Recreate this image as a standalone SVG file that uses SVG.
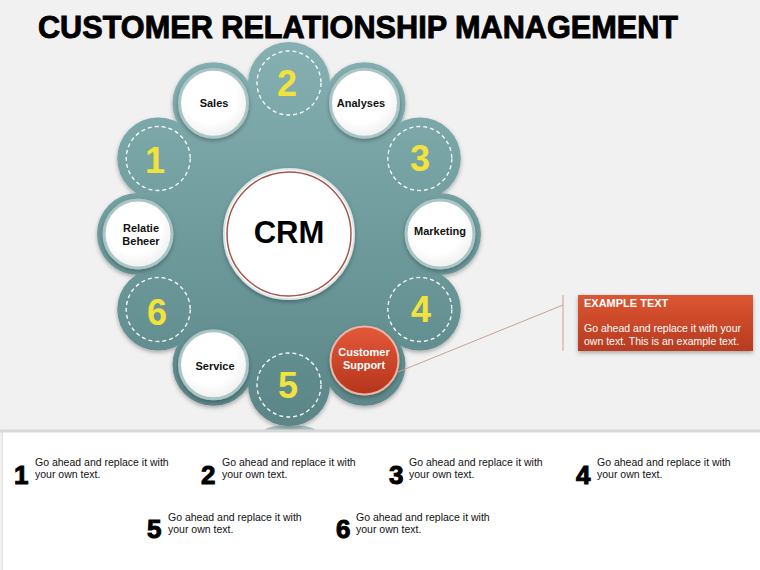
<svg xmlns="http://www.w3.org/2000/svg" width="760" height="570" viewBox="0 0 760 570">
<defs>
<linearGradient id="teal" x1="0" y1="40" x2="0" y2="430" gradientUnits="userSpaceOnUse">
<stop offset="0" stop-color="#86b0b1"/>
<stop offset="0.5" stop-color="#6f9b9d"/>
<stop offset="1" stop-color="#5a8587"/>
</linearGradient>
<radialGradient id="wht" cx="0.45" cy="0.4" r="0.65">
<stop offset="0.6" stop-color="#ffffff"/>
<stop offset="1" stop-color="#ececec"/>
</radialGradient>
<linearGradient id="red" x1="0" y1="0" x2="0" y2="1">
<stop offset="0" stop-color="#e4583a"/>
<stop offset="1" stop-color="#b5351c"/>
</linearGradient>
<linearGradient id="box" x1="0" y1="0" x2="0" y2="1">
<stop offset="0" stop-color="#dc5632"/>
<stop offset="1" stop-color="#b73b21"/>
</linearGradient>
<filter id="sh" x="-20%" y="-20%" width="140%" height="140%">
<feDropShadow dx="0" dy="2" stdDeviation="2" flood-color="#000" flood-opacity="0.3"/>
</filter>
</defs>
<style>
.bg{fill:#f1f1f1}
.lab{font-family:"Liberation Sans",Arial,sans-serif;font-weight:bold;font-size:11px;fill:#111;text-anchor:middle}
.num{font-family:"Liberation Sans",Arial,sans-serif;font-weight:bold;font-size:36px;fill:#f2e33c;text-anchor:middle}
.wc{fill:url(#wht);stroke:#a9c5c6;stroke-width:3}
.dc{fill:none;stroke:#ffffff;stroke-width:1.3;stroke-dasharray:4 3}
.bn{font-family:"Liberation Sans",Arial,sans-serif;font-weight:900;font-size:26px;fill:#000;stroke:#000;stroke-width:1}
.bt{font-family:"Liberation Sans",Arial,sans-serif;font-size:10.5px;fill:#111}
.conn{stroke:#c9a292;stroke-width:1;fill:none}
</style>
<rect class="bg" x="0" y="0" width="760" height="570"/>
<text x="38" y="38" font-family="Liberation Sans,Arial,sans-serif" font-weight="bold" font-size="31" fill="#000" stroke="#000" stroke-width="0.9" textLength="640" lengthAdjust="spacingAndGlyphs">CUSTOMER RELATIONSHIP MANAGEMENT</text>

<ellipse cx="290" cy="431" rx="26" ry="6" fill="#7aa3a4" opacity="0.6"/>

<g id="ring" filter="url(#sh)" fill="url(#teal)">
<circle cx="289" cy="234" r="150"/>
<circle cx="289" cy="83" r="41"/>
<circle cx="364.5" cy="103.2" r="41"/>
<circle cx="419.8" cy="158.5" r="41"/>
<circle cx="440" cy="234" r="41"/>
<circle cx="419.8" cy="309.5" r="41"/>
<circle cx="364.5" cy="364.8" r="41"/>
<circle cx="289" cy="385" r="41"/>
<circle cx="213.5" cy="364.8" r="41"/>
<circle cx="158.2" cy="309.5" r="41"/>
<circle cx="138" cy="234" r="41"/>
<circle cx="158.2" cy="158.5" r="41"/>
<circle cx="213.5" cy="103.2" r="41"/>
</g>

<g id="crm">
<circle cx="289" cy="234" r="65" fill="#ffffff" stroke="#dce6e6" stroke-width="2" filter="url(#sh)"/>
<circle cx="289" cy="234" r="62" fill="none" stroke="#a8574a" stroke-width="1.5"/>
<text x="289" y="243" font-family="Liberation Sans,Arial,sans-serif" font-weight="bold" font-size="31" fill="#000" text-anchor="middle">CRM</text>
</g>

<g id="n2"><circle class="dc" cx="289" cy="83" r="32"/><text class="num" x="287" y="96">2</text></g>
<g id="n3"><circle class="dc" cx="419.8" cy="158.5" r="32"/><text class="num" x="420" y="171">3</text></g>
<g id="n4"><circle class="dc" cx="419.8" cy="309.5" r="32"/><text class="num" x="421" y="322">4</text></g>
<g id="n5"><circle class="dc" cx="289" cy="385" r="32"/><text class="num" x="288" y="398">5</text></g>
<g id="n6"><circle class="dc" cx="158.2" cy="309.5" r="32"/><text class="num" x="157" y="325">6</text></g>
<g id="n1"><circle class="dc" cx="158.2" cy="158.5" r="32"/><text class="num" x="155" y="173">1</text></g>

<g id="sales"><circle class="wc" cx="213.5" cy="103.2" r="34" filter="url(#sh)"/><text class="lab" x="214" y="107">Sales</text></g>
<g id="analyses"><circle class="wc" cx="364.5" cy="103.2" r="34" filter="url(#sh)"/><text class="lab" x="361" y="107">Analyses</text></g>
<g id="marketing"><circle class="wc" cx="440" cy="234" r="34" filter="url(#sh)"/><text class="lab" x="440" y="235">Marketing</text></g>
<g id="service"><circle class="wc" cx="213.5" cy="364.8" r="34" filter="url(#sh)"/><text class="lab" x="215" y="370">Service</text></g>
<g id="relatie"><circle class="wc" cx="138" cy="234" r="34" filter="url(#sh)"/><text class="lab" x="141" y="232">Relatie</text><text class="lab" x="141" y="245">Beheer</text></g>
<g id="support"><circle cx="364.5" cy="360.5" r="34" fill="url(#red)" stroke="#e8b7a8" stroke-width="2" filter="url(#sh)"/><text class="lab" x="364" y="356" style="fill:#fff">Customer</text><text class="lab" x="364" y="369" style="fill:#fff">Support</text></g>

<g id="connectors">
<line class="conn" x1="563" y1="295" x2="563" y2="351"/>
<line class="conn" x1="563" y1="305" x2="398" y2="372"/>
</g>

<g id="callout">
<rect x="578" y="295" width="175" height="56" fill="url(#box)" filter="url(#sh)"/>
<text x="584" y="307" font-family="Liberation Sans,Arial,sans-serif" font-weight="bold" font-size="11" fill="#fff">EXAMPLE TEXT</text>
<text x="584" y="332" font-family="Liberation Sans,Arial,sans-serif" font-size="10.5" fill="#fff">Go ahead and replace it with your</text>
<text x="584" y="345" font-family="Liberation Sans,Arial,sans-serif" font-size="10.5" fill="#fff">own text. This is an example text.</text>
</g>

<g id="panel">
<rect x="2" y="431" width="758" height="139" fill="#ffffff"/>
<line x1="0" y1="431" x2="760" y2="431" stroke="#d8d8d8" stroke-width="3"/>
<line x1="2.5" y1="431" x2="2.5" y2="570" stroke="#e0e0e0" stroke-width="1"/>
<g id="b1"><text class="bn" x="14" y="484">1</text><text class="bt" x="35" y="466">Go ahead and replace it with</text><text class="bt" x="35" y="478">your own text.</text></g>
<g id="b2"><text class="bn" x="201" y="484">2</text><text class="bt" x="222" y="466">Go ahead and replace it with</text><text class="bt" x="222" y="478">your own text.</text></g>
<g id="b3"><text class="bn" x="389" y="484">3</text><text class="bt" x="409" y="466">Go ahead and replace it with</text><text class="bt" x="409" y="478">your own text.</text></g>
<g id="b4"><text class="bn" x="576" y="484">4</text><text class="bt" x="597" y="466">Go ahead and replace it with</text><text class="bt" x="597" y="478">your own text.</text></g>
<g id="b5"><text class="bn" x="147" y="538">5</text><text class="bt" x="168" y="521">Go ahead and replace it with</text><text class="bt" x="168" y="533">your own text.</text></g>
<g id="b6"><text class="bn" x="336" y="538">6</text><text class="bt" x="356" y="521">Go ahead and replace it with</text><text class="bt" x="356" y="533">your own text.</text></g>
</g>
</svg>
